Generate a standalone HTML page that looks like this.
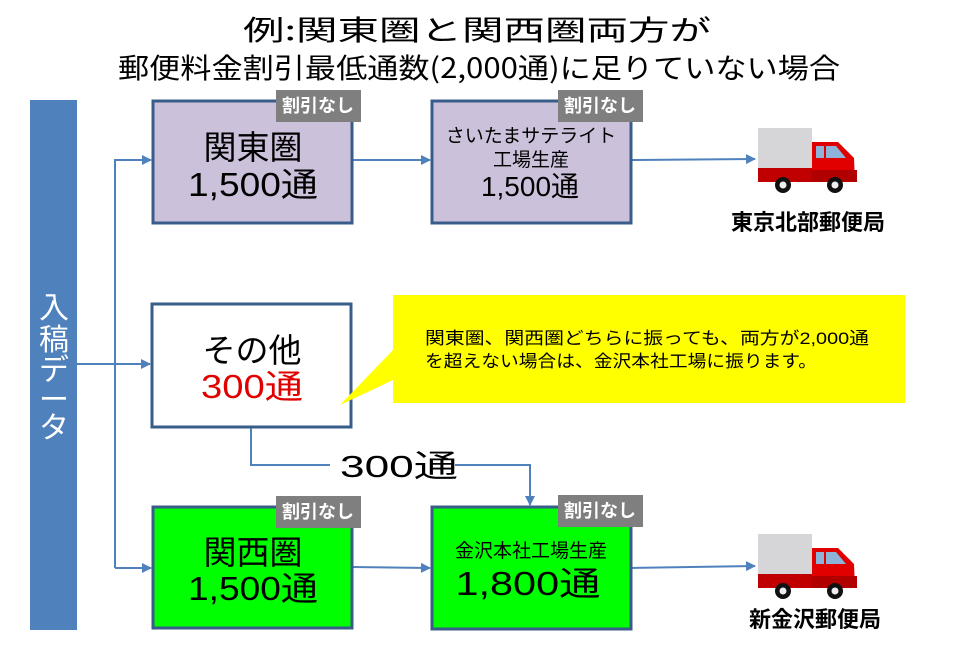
<!DOCTYPE html>
<html><head><meta charset="utf-8"><style>
html,body{margin:0;padding:0;background:#fff;}
svg{display:block;font-family:"Liberation Sans","Noto Sans CJK JP",sans-serif;}
</style></head><body>
<svg width="961" height="645" viewBox="0 0 961 645" xmlns="http://www.w3.org/2000/svg">
<defs>
<marker id="a" markerWidth="10" markerHeight="10" refX="9" refY="5" orient="auto" markerUnits="userSpaceOnUse"><path d="M0,0 L10,5 L0,10 z" fill="#4f81bd"/></marker>
<g id="truck">
<rect x="0" y="0" width="54" height="40" fill="#d6d6d8"/>
<rect x="0" y="40" width="54" height="14" fill="#c00000"/>
<path d="M54,54 L54,14 L80,14 L96,30 L97,54 z" fill="#e00000"/>
<path d="M58,18 L66,18 L66,30 L58,30 z M68,18 L78,18 L88,30 L68,30 z" fill="#8db4d8"/>
<rect x="54" y="42" width="45" height="12" fill="#b00000"/>
<circle cx="25" cy="57" r="8" fill="#111"/><circle cx="25" cy="57" r="3.5" fill="#eee"/>
<circle cx="77" cy="57" r="8" fill="#111"/><circle cx="77" cy="57" r="3.5" fill="#eee"/>
</g>
</defs>
<g font-family="Noto Sans CJK JP, sans-serif">
<text x="477" y="40" font-size="28" text-anchor="middle" textLength="468" lengthAdjust="spacingAndGlyphs">例:関東圏と関西圏両方が</text>
<text x="479" y="78" font-size="28" text-anchor="middle" textLength="722" lengthAdjust="spacingAndGlyphs">郵便料金割引最低通数(2,000通)に足りていない場合</text>
</g>

<rect x="30" y="100" width="47" height="530" fill="#4f81bd"/>
<g fill="#fff" font-size="30" text-anchor="middle">
<text x="54" y="318">入</text><text x="54" y="350">稿</text><text x="54" y="380">デ</text><text x="54" y="410">ー</text><text x="54" y="438">タ</text>
</g>

<g stroke="#4f81bd" stroke-width="2" fill="none">
<line x1="77" y1="364" x2="150" y2="364" marker-end="url(#a)"/>
<polyline points="115,568 115,160 151,160" marker-end="url(#a)"/>
<line x1="115" y1="568" x2="151" y2="568" marker-end="url(#a)"/>
<line x1="352" y1="160" x2="430" y2="160" marker-end="url(#a)"/>
<line x1="631" y1="160" x2="755" y2="159" marker-end="url(#a)"/>
<line x1="352" y1="567" x2="430" y2="568" marker-end="url(#a)"/>
<line x1="631" y1="568" x2="755" y2="566" marker-end="url(#a)"/>
<polyline points="251,427 251,465 330,465"/>
<polyline points="455,465 530,465 530,505" marker-end="url(#a)"/>
</g>
<text x="399" y="477" font-size="31" text-anchor="middle" textLength="118" lengthAdjust="spacingAndGlyphs">300通</text>

<g stroke="#385d8a" stroke-width="3">
<rect x="153" y="101" width="199" height="122" fill="#ccc1da"/>
<rect x="432" y="101" width="199" height="122" fill="#ccc1da"/>
<rect x="152" y="304" width="199" height="123" fill="#fff"/>
<rect x="153" y="507" width="199" height="121" fill="#00ff00"/>
<rect x="432" y="507" width="199" height="122" fill="#00ff00"/>
</g>
<g fill="#7f7f7f">
<rect x="276" y="90" width="85" height="32"/><rect x="558" y="90" width="85" height="32"/>
<rect x="276" y="496" width="85" height="32"/><rect x="558" y="495" width="85" height="32"/>
</g>
<g fill="#fff" font-size="18" font-weight="bold" text-anchor="middle">
<text x="318" y="112">割引なし</text><text x="600" y="112">割引なし</text>
<text x="318" y="518">割引なし</text><text x="600" y="517">割引なし</text>
</g>

<g font-size="33" text-anchor="middle">
<text x="253" y="159">関東圏</text><text x="253" y="196" textLength="130" lengthAdjust="spacingAndGlyphs">1,500通</text>
<text x="252" y="362">その他</text><text x="252" y="398" fill="#e00000" textLength="102" lengthAdjust="spacingAndGlyphs">300通</text>
<text x="253" y="564">関西圏</text><text x="253" y="600" textLength="130" lengthAdjust="spacingAndGlyphs">1,500通</text>
<text x="528" y="595" textLength="145" lengthAdjust="spacingAndGlyphs">1,800通</text>
<text x="530" y="196" font-size="28">1,500通</text>
</g>
<g font-size="19" text-anchor="middle">
<text x="531" y="142">さいたまサテライト</text><text x="531" y="166">工場生産</text>
<text x="531" y="557">金沢本社工場生産</text>
</g>

<path d="M393,350 L340,405 L393,380 z" fill="#ffff00"/>
<rect x="393" y="295" width="512" height="108" fill="#ffff00"/>
<g font-size="17">
<text x="425" y="344" textLength="444" lengthAdjust="spacingAndGlyphs">関東圏、関西圏どちらに振っても、両方が2,000通</text>
<text x="425" y="367" textLength="392" lengthAdjust="spacingAndGlyphs">を超えない場合は、金沢本社工場に振ります。</text>
</g>

<use href="#truck" x="758" y="128"/>
<use href="#truck" x="758" y="534"/>
<g font-size="22" font-weight="bold" text-anchor="middle">
<text x="808" y="230">東京北部郵便局</text>
<text x="815" y="627">新金沢郵便局</text>
</g>
</svg>
</body></html>
